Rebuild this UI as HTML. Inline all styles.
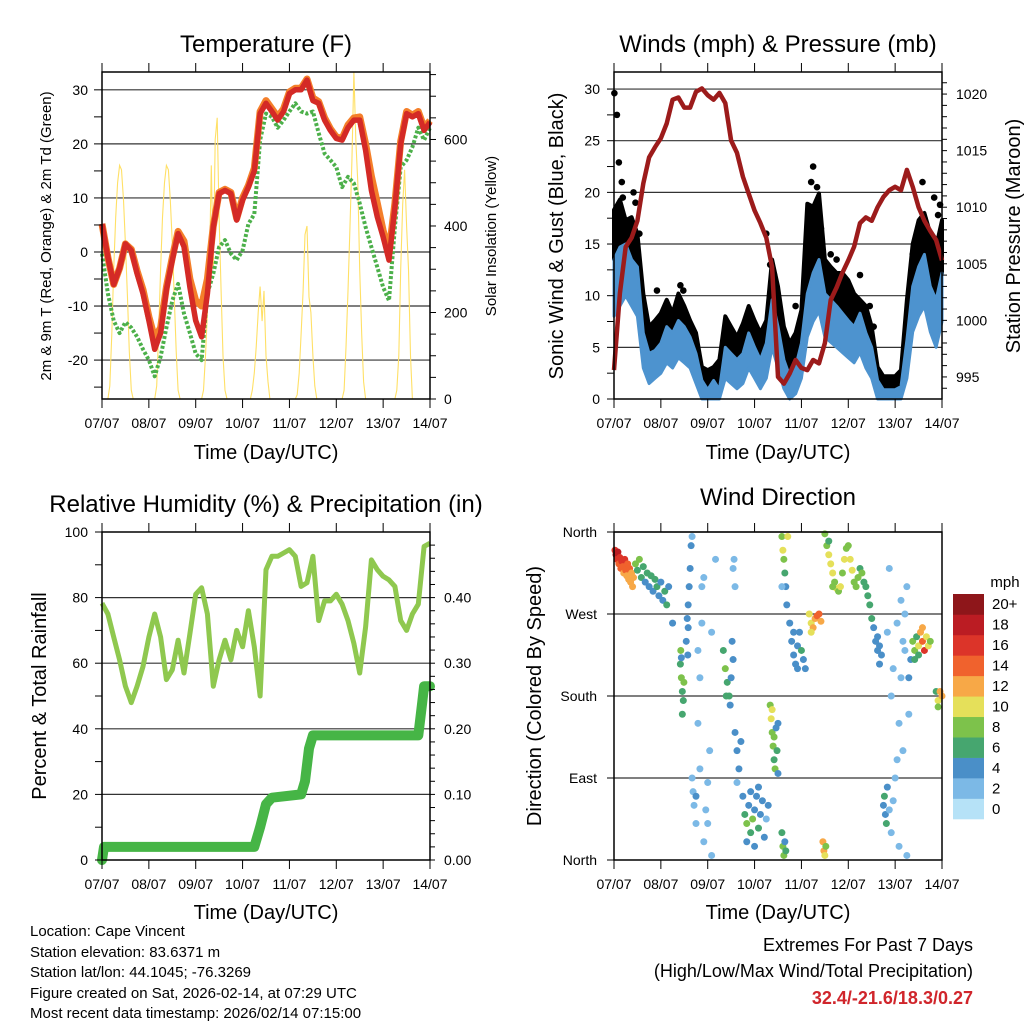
<!DOCTYPE html>
<html><head><meta charset="utf-8"><title>Cape Vincent Station</title>
<style>
html,body{margin:0;padding:0;background:#fff;}
svg{display:block;font-family:"Liberation Sans",Arial,sans-serif;}
</style></head>
<body>
<svg id="chart" width="1024" height="1024" viewBox="0 0 1024 1024" xmlns="http://www.w3.org/2000/svg">
<rect x="0" y="0" width="1024" height="1024" fill="#fff"/>
<text x="266" y="52" font-size="24" text-anchor="middle">Temperature (F)</text>
<text x="778" y="52" font-size="24" text-anchor="middle">Winds (mph) &amp; Pressure (mb)</text>
<text x="266" y="512" font-size="24" text-anchor="middle">Relative Humidity (%) &amp; Precipitation (in)</text>
<text x="778" y="505" font-size="24" text-anchor="middle">Wind Direction</text>
<text x="266" y="459" font-size="20" text-anchor="middle">Time (Day/UTC)</text>
<text x="778" y="459" font-size="20" text-anchor="middle">Time (Day/UTC)</text>
<text x="266" y="919" font-size="20" text-anchor="middle">Time (Day/UTC)</text>
<text x="778" y="919" font-size="20" text-anchor="middle">Time (Day/UTC)</text>
<text transform="translate(51,236) rotate(-90)" font-size="15" text-anchor="middle">2m &amp; 9m T (Red, Orange) &amp; 2m Td (Green)</text>
<text transform="translate(496,236) rotate(-90)" font-size="15" text-anchor="middle">Solar Insolation (Yellow)</text>
<text transform="translate(563,236) rotate(-90)" font-size="20" text-anchor="middle">Sonic Wind &amp; Gust (Blue, Black)</text>
<text transform="translate(1020,236) rotate(-90)" font-size="20" text-anchor="middle">Station Pressure (Maroon)</text>
<text transform="translate(46,696) rotate(-90)" font-size="20" text-anchor="middle">Percent &amp; Total Rainfall</text>
<text transform="translate(541,696) rotate(-90)" font-size="20" text-anchor="middle">Direction (Colored By Speed)</text>
<g font-size="15">
<text x="30" y="936">Location: Cape Vincent</text>
<text x="30" y="957">Station elevation: 83.6371 m</text>
<text x="30" y="977">Station lat/lon: 44.1045; -76.3269</text>
<text x="30" y="998">Figure created on Sat, 2026-02-14, at 07:29 UTC</text>
<text x="30" y="1018">Most recent data timestamp: 2026/02/14 07:15:00</text>
</g>
<text x="973" y="951" font-size="18" text-anchor="end">Extremes For Past 7 Days</text>
<text x="973" y="977" font-size="18" text-anchor="end">(High/Low/Max Wind/Total Precipitation)</text>
<text x="973" y="1004" font-size="18" font-weight="bold" fill="#d0252b" text-anchor="end">32.4/-21.6/18.3/0.27</text>
<text x="1005" y="587" font-size="15" text-anchor="middle">mph</text>
</svg>
<script>
const dayLabels = ['07/07','08/07','09/07','10/07','11/07','12/07','13/07','14/07'];
const tempRed = [5.2,-1,-6,-3,1.5,0.3,-4,-7.7,-12.7,-18,-15,-7,-1.5,3.4,1,-6.5,-12.7,-15.7,-7.7,4.6,10.8,11.4,10.8,5.9,9.6,12,15,25.6,27.5,26,24.4,26,29.3,30,30,31.8,28,27.5,24.4,22.5,21,20.7,23,24.4,24.4,18.8,11.4,6.5,2.8,-1.5,8.3,20,25.6,25,25.6,22.5,24];
const tempOrange = [5.2,-1,-6,-3,1.5,0.5,-3.5,-7,-12,-16,-14,-6.5,-1,3.8,2,-5,-9,-10,-5,4.8,11,11.6,11,6.2,10,12.3,15.5,26,28,26.5,25,26.5,29.6,30.3,30.3,32,28.5,27.8,24.8,22.8,21.3,21,23.5,24.8,25,20,14,9,4,0,9,20.5,26,25.3,26,23,24.3];
const dewGreen = [-0.3,-7.7,-12.7,-15,-13,-14,-15.7,-18,-20,-23,-19.4,-14,-9,-5.9,-11.4,-15,-18.8,-20,-7.7,-4,0.9,2.2,-0.3,-1.5,0.3,5.2,7,20.7,25.6,25,23,24.4,26,27.5,26,25.6,26,22,18.2,17,15.7,12,13.9,12.7,9,4.6,0.9,-2.8,-6.5,-9,4.6,15.7,17,19.4,23,20.7,23];
const solar = [
0,0,0,0,30,150,300,420,500,540,530,460,360,240,110,20,0,0,0,0,0,0,0,0,
0,0,0,0,30,150,300,420,500,540,530,460,360,240,110,20,0,0,0,0,0,0,0,0,
0,0,0,0,20,100,200,300,540,300,600,650,420,250,100,20,0,0,0,0,0,0,0,0,
0,0,0,0,0,20,60,120,200,260,180,250,100,40,0,0,0,0,0,0,0,0,0,0,
0,0,0,0,10,60,150,250,380,400,236,200,100,30,0,0,0,0,0,0,0,0,0,0,
0,0,0,0,20,120,250,400,550,756,600,500,300,150,40,0,0,0,0,0,0,0,0,0,
0,0,0,0,0,0,0,20,100,300,450,530,400,300,100,0,0,0,0,0,0,0,0,0,0];
const windHi = [13.5,14.7,15,13.5,12.8,6.4,4.4,4.7,5.4,7,6.4,7.6,7,6,4.4,1.8,0.9,1.8,0.9,5,4.4,3.8,4.4,6.4,5,3.8,5.4,9.6,7,3.8,2.2,3.1,5.4,10.2,12.2,13.5,10.2,9.6,9,8.3,7.6,7,8.3,6.4,5,1.8,0.9,0.9,0.9,1.2,5.7,10.9,12.8,14,10.9,9.6,12.2];
const windLo = [8,9,10,9,8,3,1.5,2,2.5,3.5,3,4,3.5,3,1.5,0,0,0,0,2,1.5,1,1.5,3,2,1,2,5,3,1,0,0.5,2,6,7.5,8.5,6,5.5,5,4.5,4,3.5,4.5,3,2,0,0,0,0,0,2,6.5,8,9,6.5,5,7.5];
const gust = [18.3,19.3,17.3,17.6,16,10.2,7,7.6,8.3,9.6,8.3,10.2,9,7.6,6.4,3.1,2.8,3.1,3.8,8,7,6,7.3,9,7.6,6.4,7.6,13.5,10.9,7,5.4,6.4,8.6,18.9,18.6,19.9,13.5,12.8,12.2,12.2,11.5,10.2,9.6,9,7,3.1,2.2,2.2,2.2,2.8,9.6,15,17.3,18,16,14.7,17.3];
const gustOutT = [0.2,1.5,2.5,4,4.5,10,11,13,22,34,35.5,78,80,82,93,102,101,104,103,106,111,114,126,131,133,158,159,167,166,153,164];
const gustOutV = [29.6,27.5,22.9,21,19.5,20,19,16,10.5,11,10.5,16,13,12,9,22.5,21,20.5,17,16.5,14,13.5,12,9,7,21,17.5,18.8,17.8,14,19.5];
const pressure = [995.6,1002.4,1006.5,1007.3,1008.8,1012.1,1014.4,1015.3,1016.1,1017.4,1019.5,1019.7,1018.8,1018.8,1020.2,1020.5,1019.9,1019.5,1020.1,1019.2,1015.9,1014.8,1012.7,1011.2,1009.7,1008.6,1007.3,1004.7,995,994.4,995.3,996.5,995.8,995.6,996.5,996.2,998,1001.8,1002.9,1004.2,1005.3,1006.5,1008.6,1009.1,1008.8,1010,1010.9,1011.5,1011.8,1011.5,1013.3,1011.8,1010,1008.8,1007.9,1007.1,1005.3];
const rh = [78.3,75,68,61,53,48,53,59,68,75,68,55,58,67,57,69,81,83,75,53,61,67,61,70,65,76,65,50,88.5,92.6,92.6,93.6,94.6,92.6,83.4,84.5,92.6,73,79,79,81,78,73,66,57,71,91.5,88.5,86.5,85.4,83.4,73,70,75,78,95.6,96.6];
const precipT = [0,1,78,81,84,87,102,104,106,108,162,164,165,168];
const precipV = [0,0.02,0.02,0.05,0.085,0.095,0.1,0.12,0.17,0.19,0.19,0.24,0.265,0.265];
const dirT = [0.5,1,1.5,2,2.5,3,3.5,4,4.5,5,5.5,6,6.5,7,7.5,8,8.5,9,9.5,10,
11,12,13,14,15,16,17,18,19,20,21,22,23,24,25,26,27,28,30,
34,34.5,35,35.5,34.2,35.8,35,34.5,37,37.5,38,38.5,39,39.5,40,38,37.8,
40,41,42,40.5,43,44,45,46,47,48,49,50,52,46,44,42,48,50,45,43,
56,57,58,59,60,61,57.5,59.5,60.5,62,63,64,65,63,61,62,61.5,
66,67,68,69,70,71,72,73,74,75,76,77,78,79,68,70,72,74,
80,80.5,81,81.5,82,82.5,83,83.5,84,81,82,84,86,86.5,87,87.5,88,88.5,89,86,86,86.5,87,87.5,88,
90,91,92,93,94,95,96,97,98,92,94,100,101,102,103,104,105,106,101,107,107.5,108,108.5,
108,109,110,111,112,113,114,115,116,117,118,119,120,121,122,123,124,125,126,127,128,129,130,131,132,133,134,135,110,112,
135,136,137,136,138,139,138.5,139.5,140,141,142,143,144,145,146,147,148,149,150,140,141,142,143,145,147,149,150,146,148,151,152,151,
153,154,155,156,157,158,159,160,161,162,156,158,154,165,166,167,168,166];
const dirD = [340,335,330,338,325,332,320,328,322,315,330,318,312,325,308,320,305,315,300,310,
325,318,330,310,322,305,315,300,312,295,308,300,290,305,285,295,280,300,260,
215,200,185,175,230,195,160,222,240,265,280,300,320,345,355,255,225,
90,60,40,75,150,200,260,20,55,85,120,250,330,310,100,70,40,5,300,230,
230,210,195,180,200,220,180,170,240,140,120,100,130,85,320,300,330,
70,50,40,60,30,45,55,70,35,50,65,25,45,60,20,75,15,80,
170,155,140,125,110,100,145,120,95,165,135,150,355,340,330,315,300,280,355,300,30,15,5,20,10,
260,240,225,215,235,250,230,220,210,250,210,270,260,255,265,268,270,262,250,20,10,5,15,
358,345,335,325,315,305,298,295,300,315,330,342,345,330,318,305,300,310,320,315,305,300,290,280,265,255,240,230,350,300,
245,235,225,215,60,50,70,40,80,55,30,65,90,110,150,200,240,270,300,250,320,180,210,260,285,230,5,15,120,200,220,160,
240,230,245,235,250,240,230,245,235,240,225,255,220,185,175,185,180,168];
const dirS = [16,17,15,18,14,16,13,15,14,12,15,13,12,14,11,13,12,12,11,12,
7,6,8,5,6,4,5,4,6,4,6,5,4,3,4,5,5,3,3,
6,7,6,5,7,8,6,4,4,4,3,4,4,3,2,4,3,
2,2,1,2,1,1,1,2,2,2,1,1,1,1,2,3,2,1,2,1,
6,7,6,5,4,4,6,4,3,3,4,3,4,2,1,2,1,
4,5,7,4,6,8,4,3,5,4,4,3,2,3,4,3,4,4,
7,9,8,7,6,8,4,5,4,10,7,3,7,10,7,6,4,4,9,2,6,7,8,4,5,
4,4,3,4,3,4,5,4,3,4,4,9,10,11,12,13,14,12,10,12,11,9,7,
7,8,9,10,9,8,10,7,9,8,9,8,7,9,10,8,7,8,6,7,5,6,6,5,6,4,4,3,6,8,
4,4,3,3,4,4,6,5,3,2,2,2,1,1,1,1,1,1,1,1,1,1,2,2,2,1,1,1,2,3,4,2,
7,8,6,9,11,13,15,10,9,7,6,12,5,6,9,12,12,8];
const speedColors = ['#b6e2f7','#7cb9e6','#4a8fc8','#46a66f','#7dc24b','#e5e05a','#f7a847','#f0622d','#dc3429','#bb1c23','#8e161a'];
const speedLabels = ['0','2','4','6','8','10','12','14','16','18','20+'];

const NS='http://www.w3.org/2000/svg';
const svg=document.getElementById('chart');
function mk(tag,attrs,parent){const e=document.createElementNS(NS,tag);for(const k in attrs)e.setAttribute(k,attrs[k]);(parent||svg).appendChild(e);return e;}
const PT={x0:102,x1:430,y0:72,y1:399}, PW={x0:614,x1:942,y0:72,y1:399}, PR={x0:102,x1:430,y0:532,y1:860}, PD={x0:614,x1:942,y0:532,y1:860};
function sx(p,t){return p.x0+(p.x1-p.x0)*t/168;}
function sy(p,v,lo,hi){return p.y1-(p.y1-p.y0)*(v-lo)/(hi-lo);}
const TL=-27.2,TH=33.3,SL=0,SH=756,WL=0,WH=31.65,PL=993.05,PH=1021.95,RL=0,RH=100,QL=0,QH=0.5,DL=0,DH=360;

function grid(p,vals,lo,hi,name){for(const v of vals){const y=sy(p,v,lo,hi);const l=mk('line',{x1:p.x0,x2:p.x1,y1:y,y2:y,stroke:'#333','stroke-width':1.2});

}}
function ticksY(p,vals,lo,hi,side,len,labels,name,fs,anchorOff){
 for(let i=0;i<vals.length;i++){const y=sy(p,vals[i],lo,hi);const x=side<0?p.x0:p.x1;
  const t=mk('line',{x1:x,x2:x+side*len,y1:y,y2:y,stroke:'#000','stroke-width':1});
  
  
  if(labels&&labels[i]!==null&&labels[i]!==undefined){const tx=mk('text',{x:x+side*anchorOff,y:y+5,'font-size':fs,'text-anchor':side<0?'end':'start'});tx.textContent=labels[i];
  
  }}}
function xAxis(p,name){
 for(let d=0;d<8;d++){const x=sx(p,d*24);
  const b=mk('line',{x1:x,x2:x,y1:p.y1,y2:p.y1+9,stroke:'#000','stroke-width':1});
  
  
  const t=mk('line',{x1:x,x2:x,y1:p.y0,y2:p.y0-9,stroke:'#000','stroke-width':1});
  
  
  const tx=mk('text',{x:x,y:p.y1+29,'font-size':14,'text-anchor':'middle'});tx.textContent=dayLabels[d];
  
  }}
function frame(p,name){const r=mk('rect',{x:p.x0,y:p.y0,width:p.x1-p.x0,height:p.y1-p.y0,fill:'none',stroke:'#000','stroke-width':1.5});
 
 }
function linePath(p,ts,vs,lo,hi){let d='';for(let i=0;i<vs.length;i++){d+=(i?'L':'M')+sx(p,ts[i]).toFixed(1)+' '+sy(p,vs[i],lo,hi).toFixed(1);}return d;}
const t3=tempRed.map((v,i)=>i*3);
const t1=solar.map((v,i)=>i);

// ===== Temperature panel =====
grid(PT,[-20,-10,0,10,20,30],TL,TH,'temp-gridline');
let e;
e=mk('path',{d:linePath(PT,t1,solar,SL,SH),fill:'none',stroke:'#ffe066','stroke-width':1.1});


e=mk('path',{d:linePath(PT,t3,dewGreen,TL,TH),fill:'none',stroke:'#4cb04a','stroke-width':4,'stroke-dasharray':'3 2','stroke-linejoin':'round'});


e=mk('path',{d:linePath(PT,t3,tempOrange,TL,TH),fill:'none',stroke:'#f47f2a','stroke-width':7,'stroke-linejoin':'round'});


e=mk('path',{d:linePath(PT,t3,tempRed,TL,TH),fill:'none',stroke:'#d42a26','stroke-width':5.5,'stroke-linejoin':'round'});


frame(PT,'temp');
ticksY(PT,[-25,-20,-15,-10,-5,0,5,10,15,20,25,30],TL,TH,-1,8,[null,'-20',null,'-10',null,'0',null,'10',null,'20',null,'30'],'temp-y',14,14);
{const v=[],l=[];for(let w=0;w<=750;w+=50){v.push(w);l.push(w%200===0?String(w):null);}ticksY(PT,v,SL,SH,1,6,l,'solar-y',14,14);}
xAxis(PT,'temp');

// ===== Winds panel =====
grid(PW,[5,10,15,20,25,30],WL,WH,'wind-gridline');
{let d='';for(let i=0;i<gust.length;i++)d+=(i?'L':'M')+sx(PW,t3[i]).toFixed(1)+' '+sy(PW,gust[i],WL,WH).toFixed(1);
 for(let i=windHi.length-1;i>=0;i--)d+='L'+sx(PW,t3[i]).toFixed(1)+' '+sy(PW,windHi[i],WL,WH).toFixed(1);
 e=mk('path',{d:d+'Z',fill:'#000',stroke:'#000','stroke-width':4,'stroke-linejoin':'round'});
 
 }
for(let i=0;i<gustOutT.length;i++){const c=mk('circle',{cx:sx(PW,gustOutT[i]),cy:sy(PW,gustOutV[i],WL,WH),r:3.3,fill:'#000'});
 
 }
{let d='';for(let i=0;i<windHi.length;i++)d+=(i?'L':'M')+sx(PW,t3[i]).toFixed(1)+' '+sy(PW,windHi[i],WL,WH).toFixed(1);
 for(let i=windLo.length-1;i>=0;i--)d+='L'+sx(PW,t3[i]).toFixed(1)+' '+sy(PW,windLo[i],WL,WH).toFixed(1);
 e=mk('path',{d:d+'Z',fill:'#4d93cf',stroke:'#4d93cf','stroke-width':3,'stroke-linejoin':'round'});
 
 }
e=mk('path',{d:linePath(PW,t3,pressure,PL,PH),fill:'none',stroke:'#9c1b1b','stroke-width':4.5,'stroke-linejoin':'round'});


frame(PW,'wind');
{const v=[],l=[];for(let s=0;s<=30;s+=2.5){v.push(s);l.push(s%5===0?String(s):null);}ticksY(PW,v,WL,WH,-1,7,l,'wind-y',14,14);}
{const v=[],l=[];for(let s=994;s<=1021;s++){v.push(s);l.push(s%5===0?String(s):null);}ticksY(PW,v,PL,PH,1,5,l,'pressure-y',14,14);}
xAxis(PW,'wind');

// ===== RH panel =====
grid(PR,[20,40,60,80],RL,RH,'rh-gridline');
e=mk('path',{d:linePath(PR,t3,rh,RL,RH),fill:'none',stroke:'#8fc84f','stroke-width':5,'stroke-linejoin':'round'});


e=mk('path',{d:linePath(PR,precipT,precipV,QL,QH),fill:'none',stroke:'#46b546','stroke-width':10,'stroke-linejoin':'round','stroke-linecap':'round'});


frame(PR,'rh');
{const v=[],l=[];for(let s=0;s<=100;s+=10){v.push(s);l.push(s%20===0?String(s):null);}ticksY(PR,v,RL,RH,-1,7,l,'rh-y',14,14);}
{const v=[],l=[];for(let s=0;s<=48;s+=2){v.push(s/100);l.push(s%10===0?(s/100).toFixed(2):null);}ticksY(PR,v,QL,QH,1,5,l,'precip-y',14,14);}
xAxis(PR,'rh');

// ===== Direction panel =====
grid(PD,[90,180,270,360],DL,DH,'dir-gridline');
for(let i=0;i<dirT.length;i++){const b=Math.min(10,Math.round(dirS[i]/2));
 const c=mk('circle',{cx:sx(PD,dirT[i]),cy:sy(PD,dirD[i],DL,DH),r:3.5,fill:speedColors[b]});
 
 }
frame(PD,'dir');
ticksY(PD,[0,90,180,270,360],DL,DH,-1,7,['North','East','South','West','North'],'dir-y',14,17);
xAxis(PD,'dir');
// colorbar
for(let i=0;i<speedColors.length;i++){const h=225/11;const y=819-(i+1)*h;
 const r=mk('rect',{x:953,y:y,width:31,height:h+0.3,fill:speedColors[i]});
 
 
 const t=mk('text',{x:992,y:y+h/2+5,'font-size':15});t.textContent=speedLabels[i];
 
 }
</script>
</body></html>
